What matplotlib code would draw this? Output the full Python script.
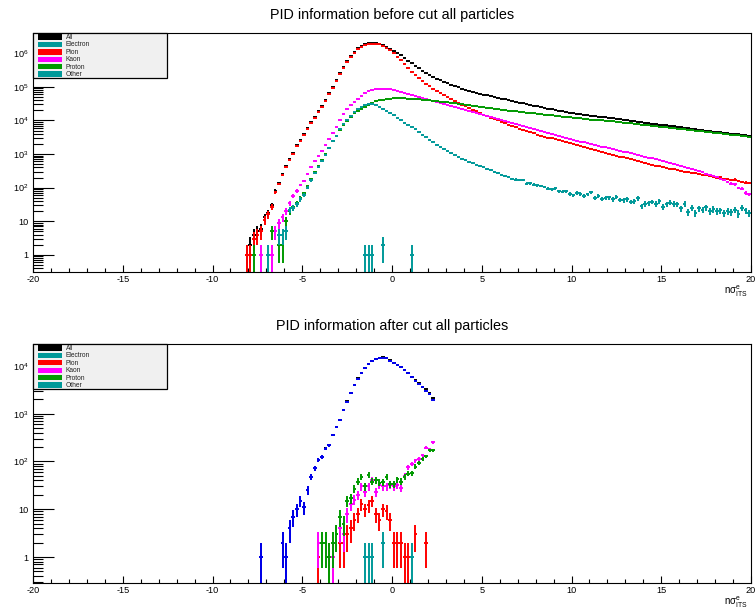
import numpy as np
import matplotlib
matplotlib.use("Agg")
import matplotlib.pyplot as plt
from matplotlib.patches import Rectangle
from matplotlib.ticker import FuncFormatter, LogLocator, MultipleLocator, NullFormatter

# histogram contents, bin width 0.2 in n sigma
BIN_WIDTH = 0.2

# --- before cut: every series starts at the bin centred on -8.1 ---
before_start = -8.1
all_before = [
    1, 2, 4, 5, 6, 13, 18, 30, 80, 140,
    250, 450, 720, 1100, 1800, 2600, 4000, 5900, 8700, 12600,
    18600, 27500, 41700, 64600, 100000, 158000, 251000, 389000, 575000, 813000,
    1100000, 1380000, 1620000, 1820000, 1950000, 2020000, 2000000, 1910000, 1740000, 1550000,
    1350000, 1170000, 1020000, 871000, 724000, 603000, 501000, 417000, 351000, 299000,
    257000, 224000, 197000, 176000, 157000, 141000, 127000, 116000, 106000, 96600,
    88100, 81300, 75000, 70000, 65300, 61700,
    58600, 55500, 52500, 49700, 47000, 44600, 42200, 39800, 37800, 35700,
    33800, 32100, 30500, 29000, 27600, 26200, 24900, 23700, 22500, 21400,
    20400, 19500, 18600, 17800, 17000, 16300, 15800, 15300, 14800, 14400,
    13900, 13500, 13000, 12600, 12200, 11800, 11500, 11100, 10700, 10400,
    10100, 9750, 9440, 9140, 8850, 8570, 8300, 8040, 7780, 7530,
    7290, 7060, 6840, 6620, 6410, 6210, 6010, 5820, 5640, 5460,
    5280, 5120, 4950, 4800, 4650, 4510, 4390, 4270, 4150, 4040,
    3930, 3820, 3720, 3610, 3520,
]
pion_before = [
    1, 1, 3, 4, 5, 11, 16, 27, 72, 128,
    232, 420, 670, 1020, 1680, 2420, 3720, 5500, 8100, 11700,
    17300, 25600, 38800, 60100, 93000, 147000, 234000, 362000, 536000, 760000,
    1030000, 1300000, 1530000, 1720000, 1850000, 1920000, 1900000, 1810000, 1640000, 1450000,
    1200000, 977000, 794000, 631000, 479000, 363000, 282000, 224000, 182000, 148000,
    123000, 102000, 87100, 74100, 64600, 56200, 49000, 42700, 37200, 33100,
    29500, 26300, 23400, 20900, 18600, 16600, 14800, 13300, 12000, 11000,
    10000, 9120, 8320, 7500, 6760, 6170, 5620, 5250, 4840, 4470,
    4120, 3800, 3550, 3310, 3090, 2920, 2750, 2570, 2430, 2260,
    2140, 2000, 1860, 1740, 1640, 1550, 1450, 1350, 1260, 1170,
    1100, 1020, 955, 891, 832, 794, 741, 692, 646, 603,
    575, 537, 501, 479, 452, 427, 407, 385, 367, 347,
    331, 316, 302, 295, 269, 275, 251, 240, 234, 219,
    214, 200, 204, 186, 178, 170, 174, 158, 145, 141, 138,
]
kaon_before = [
    0, 0, 0, 0, 1, 0, 0, 1, 5, 9,
    13, 20, 35, 56, 80, 120, 160, 250, 400, 620,
    880, 1250, 1800, 2800, 4300, 6500, 10500, 16000, 22000, 29000,
    36000, 44000, 54000, 64000, 73000, 81000, 86000, 88000, 87500, 86000,
    83200, 79400, 75000, 70800, 66100, 61700, 57500, 53700, 50100, 46800,
    43700, 40700, 38000, 35500, 33100, 30900, 28800, 26900, 25100, 23400,
    21900, 20400, 19100, 17800, 16600, 15500, 14500, 13500, 12600, 11700,
    11000, 10200, 9550, 8910, 8320, 7760, 7240, 6760, 6310, 5890,
    5500, 5130, 4790, 4470, 4170, 3890, 3630, 3390, 3160, 2950,
    2790, 2630, 2480, 2340, 2210, 2090, 1970, 1860, 1760, 1660,
    1570, 1480, 1400, 1320, 1240, 1170, 1110, 1050, 989, 933,
    881, 832, 785, 741, 700, 661, 617, 575, 537, 501,
    468, 437, 407, 380, 355, 331, 309, 288, 263, 240,
    219, 204, 186, 166, 148, 132, 125, 98, 92, 70, 63,
]
proton_before = [
    0, 0, 1, 0, 0, 0, 0, 5, 0, 2,
    2, 10, 20, 26, 34, 50, 68, 110, 180, 300,
    440, 680, 1000, 1550, 2400, 3400, 5200, 7300, 9800, 13000,
    16500, 19500, 22500, 25500, 29000, 33000, 36500, 39500, 41500, 43000,
    44000, 44800, 45200, 45300, 45000, 44400, 43600, 42900, 42100, 41300,
    40600, 39400, 38400, 37300, 36300, 35300, 34100, 33000, 32000, 31000,
    30000, 29000, 28100, 27200, 26400, 25500, 24700, 23800, 22900, 22100,
    21300, 20600, 20000, 19500, 19000, 18500, 17900, 17500, 17000, 16500,
    16100, 15600, 15200, 14800, 14400, 14000, 13600, 13200, 12900, 12500,
    12200, 11900, 11600, 11400, 11100, 10800, 10600, 10400, 10200, 10000,
    9860, 9640, 9380, 9120, 8870, 8630, 8400, 8170, 7940, 7730,
    7520, 7310, 7110, 6920, 6730, 6550, 6370, 6190, 6030, 5860,
    5700, 5550, 5400, 5250, 5110, 4970, 4830, 4700, 4570, 4450,
    4330, 4210, 4090, 3980, 3870, 3770, 3660, 3560, 3470, 3370, 3280,
]
other_before = [
    0, 0, 0, 0, 0, 0, 1, 0, 0, 4,
    4, 5, 22, 25, 32, 45, 60, 100, 165, 280,
    400, 620, 950, 1500, 2400, 3500, 5600, 7800, 10500, 13500,
    17500, 21500, 25000, 28000, 29700, 29700, 28500, 25500, 22500, 19500,
    16500, 14000, 12000, 10000, 8600, 7400, 6300, 5400, 4500, 3800,
    3200, 2700, 2300, 1900, 1620, 1410, 1200, 1050, 910, 810,
    720, 650, 575, 525, 480, 435, 398, 363, 331, 295,
    269, 240, 224, 204, 186, 174, 166, 166, 132, 135,
    123, 117, 112, 105, 93, 91, 95, 79, 76, 78,
    66, 59, 69, 66, 58, 63, 72, 50, 56, 47,
    50, 51, 45, 52, 44, 42, 45, 38, 40, 48,
    28, 33, 35, 38, 33, 40, 27, 32, 36, 33,
    32, 24, 33, 19, 25, 18, 24, 22, 26, 20,
    23, 20, 21, 18, 20, 19, 22, 17, 25, 21, 18,
]
# the electron sample only has a handful of filled bins
electron_x = [-1.5, -1.3, -1.1, -0.5, 1.1]
electron_n = [1, 1, 1, 2, 1]

# --- after cut ---
after_start = -7.3
all_after = [
    1, 0, 0, 0, 0, 0, 2, 1, 4, 7,
    10, 15, 11, 25, 48, 72, 110, 127, 188, 223,
    357, 525, 740, 1190, 1830, 2730, 3930, 5470, 7090, 9250,
    11100, 12700, 13900, 15000, 15100, 14600, 13100, 11750, 10550, 9550,
    8150, 7080, 5990, 5010, 4310, 3680, 3220, 2740, 2160,
]
selected_after = [
    1, 0, 0, 0, 0, 0, 2, 1, 4, 7,
    10, 15, 11, 25, 48, 72, 108, 125, 185, 220,
    355, 520, 730, 1180, 1800, 2700, 3900, 5400, 7000, 9200,
    11000, 12600, 13800, 14900, 15000, 14500, 13000, 11700, 10500, 9500,
    8100, 7000, 5900, 4900, 4200, 3550, 3000, 2550, 1950,
]
pion_after_start = -4.1
pion_after = [
    1, 0, 0, 1, 1, 0, 2, 2, 3, 4,
    6, 8, 13, 10, 12, 15, 8, 6, 10, 9,
    6, 2, 2, 2, 1, 1, 0, 3, 0, 0,
    2,
]
kaon_after_start = -4.1
kaon_after = [
    2, 0, 0, 0, 1, 0, 4, 3, 8, 13,
    16, 20, 30, 23, 30, 40, 23, 32, 30, 30,
    32, 30, 32, 28, 50, 75, 88, 105, 115, 135,
    195, 180, 250,
]
proton_after_start = -3.9
proton_after = [
    2, 2, 1, 2, 3, 7, 5, 15, 17, 27,
    38, 48, 30, 52, 38, 40, 36, 37, 48, 33,
    34, 42, 38, 48, 56, 57, 78, 95, 112, 128,
    172, 170,
]

legend_names = ["All", "Electron", "Pion", "Kaon", "Proton", "Other"]
legend_colors = ["#000000", "#009999", "#ff0000", "#ff00ff", "#009900", "#009999"]
selected_color = "#0000ee"

plt.rcParams.update({
    "font.family": ["Liberation Sans", "DejaVu Sans"],
    "mathtext.fontset": "custom",
    "mathtext.rm": "Liberation Sans",
    "mathtext.it": "Liberation Sans:italic",
    "axes.unicode_minus": False,
})

W, H = 756, 609
fig = plt.figure(figsize=(W / 100, H / 100), dpi=100)


def axes_px(left, top, right, bottom):
    return fig.add_axes([left / W, 1 - bottom / H, (right - left) / W, (bottom - top) / H])


def centers(start, counts):
    return np.round(start + BIN_WIDTH * np.arange(len(counts)), 1)


def draw_hist(ax, x, counts, color):
    x = np.asarray(x, float)
    n = np.asarray(counts, float)
    keep = n > 0
    x, n = x[keep], n[keep]
    err = np.sqrt(n)
    low = np.minimum(err, n * 0.9999)  # empty lower edge runs off the log axis like ROOT
    ax.errorbar(x, n, xerr=BIN_WIDTH / 2, yerr=[low, err], fmt="none",
                ecolor=color, elinewidth=1.4, capsize=0)


def log_label(v, pos):
    e = int(round(np.log10(v)))
    if e == 0:
        return "1"
    if e == 1:
        return "10"
    return r"$\mathdefault{10^{%d}}$" % e


def style_axes(ax, ymin, ymax):
    ax.set_xlim(-20, 20)
    ax.set_yscale("log")
    ax.set_ylim(ymin, ymax)
    ax.xaxis.set_major_locator(MultipleLocator(5))
    ax.xaxis.set_minor_locator(MultipleLocator(1))
    ax.yaxis.set_major_locator(LogLocator(base=10, numticks=20))
    ax.yaxis.set_minor_locator(LogLocator(base=10, subs=np.arange(2, 10), numticks=20))
    ax.yaxis.set_major_formatter(FuncFormatter(log_label))
    ax.yaxis.set_minor_formatter(NullFormatter())
    ax.tick_params(axis="x", which="major", direction="in", length=5.2, width=0.8,
                   top=False, labelsize=6.6, pad=2.5)
    ax.tick_params(axis="x", which="minor", direction="in", length=2.6, width=0.8, top=False)
    ax.tick_params(axis="y", which="major", direction="in", length=15, width=0.8,
                   right=False, labelsize=6.6, pad=3)
    ax.tick_params(axis="y", which="minor", direction="in", length=7.5, width=0.8, right=False)
    for spine in ax.spines.values():
        spine.set_linewidth(0.8)
    ax.text(0.9958, -0.082, r"$\mathregular{n\sigma^{e}_{ITS}}$", transform=ax.transAxes,
            ha="right", va="center", fontsize=7)


def draw_legend(top):
    left, right = 33, 167
    box = Rectangle((left / W, 1 - (top + 45) / H), (right - left) / W, 45 / H,
                    transform=fig.transFigure, facecolor="#f0f0f0", edgecolor="black",
                    lw=0.9, zorder=5)
    fig.add_artist(box)
    for i, (name, color) in enumerate(zip(legend_names, legend_colors)):
        y0 = top + 1.2 + 7.45 * i
        fig.add_artist(Rectangle((37.5 / W, 1 - (y0 + 5.4) / H), 24.5 / W, 5.4 / H,
                                 transform=fig.transFigure, facecolor=color,
                                 edgecolor="none", zorder=6))
        fig.text(65.5 / W, 1 - (y0 + 3.2) / H, name, ha="left", va="center",
                 fontsize=4.8, color="#222222", zorder=7)


ax_top = axes_px(33, 33, 751, 272)
ax_bot = axes_px(33, 344, 751, 583)

x_before = centers(before_start, all_before)
draw_hist(ax_top, x_before, all_before, legend_colors[0])
draw_hist(ax_top, electron_x, electron_n, legend_colors[1])
draw_hist(ax_top, x_before, pion_before, legend_colors[2])
draw_hist(ax_top, x_before, kaon_before, legend_colors[3])
draw_hist(ax_top, x_before, proton_before, legend_colors[4])
draw_hist(ax_top, x_before, other_before, legend_colors[5])
style_axes(ax_top, 0.31, 3.97e6)

x_after = centers(after_start, all_after)
draw_hist(ax_bot, x_after, all_after, legend_colors[0])
draw_hist(ax_bot, x_after, selected_after, selected_color)
draw_hist(ax_bot, electron_x, electron_n, legend_colors[1])
draw_hist(ax_bot, centers(pion_after_start, pion_after), pion_after, legend_colors[2])
draw_hist(ax_bot, centers(kaon_after_start, kaon_after), kaon_after, legend_colors[3])
draw_hist(ax_bot, centers(proton_after_start, proton_after), proton_after, legend_colors[4])
style_axes(ax_bot, 0.286, 2.88e4)

fig.text(392 / W, 1 - 15 / H, "PID information before cut all particles",
         ha="center", va="center", fontsize=10.4)
fig.text(392 / W, 1 - 326 / H, "PID information after cut all particles",
         ha="center", va="center", fontsize=10.4)
draw_legend(33)
draw_legend(344)

fig.savefig("out.png", dpi=100)
